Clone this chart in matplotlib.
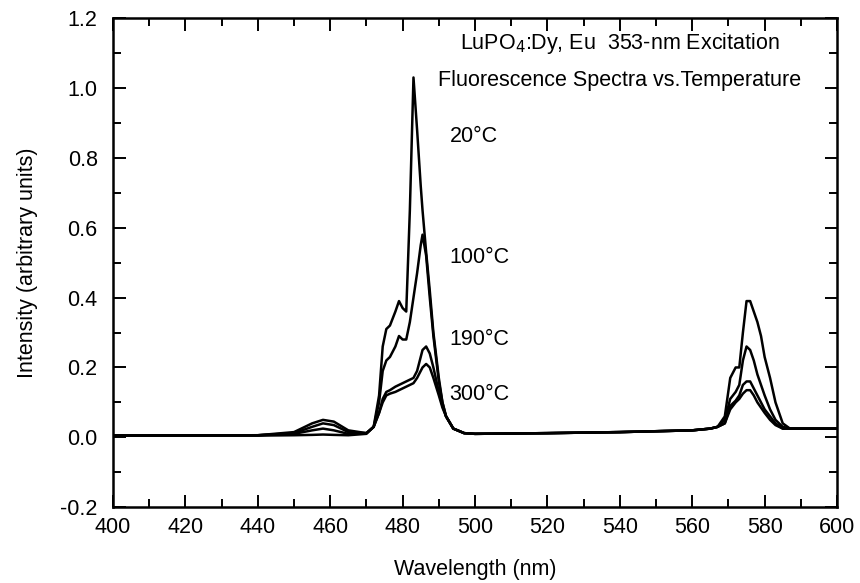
import matplotlib
matplotlib.use("Agg")
import matplotlib.pyplot as plt
from matplotlib.ticker import MultipleLocator, FormatStrFormatter

plt.rcParams['font.family'] = ['Liberation Sans', 'DejaVu Sans']

wavelength = [400, 440, 450, 455, 458, 461, 465, 470, 472, 473.5, 474.5, 475.5, 476.5,
              478, 479, 480, 481, 482, 483, 484, 485, 485.5, 486.5, 487.5, 488.5,
              490, 491, 492, 494, 497, 500, 520, 540, 560, 565, 567, 569, 570.5,
              572, 573, 574, 575, 576, 577, 578, 579, 580, 581.5, 583, 585, 587, 590, 600]

i_20C = [0.005, 0.005, 0.006, 0.007, 0.008, 0.007, 0.006, 0.01, 0.03, 0.12, 0.26, 0.31, 0.32,
         0.36, 0.39, 0.37, 0.36, 0.65, 1.03, 0.88, 0.72, 0.65, 0.53, 0.42, 0.30,
         0.17, 0.10, 0.06, 0.025, 0.012, 0.01, 0.012, 0.015, 0.02, 0.025, 0.03, 0.06, 0.17,
         0.20, 0.20, 0.30, 0.39, 0.39, 0.36, 0.33, 0.29, 0.23, 0.17, 0.10, 0.04, 0.025, 0.025, 0.025]

i_100C = [0.005, 0.006, 0.01, 0.02, 0.025, 0.02, 0.01, 0.012, 0.03, 0.10, 0.19, 0.22, 0.23,
          0.26, 0.29, 0.28, 0.28, 0.33, 0.40, 0.47, 0.55, 0.58, 0.52, 0.40, 0.29,
          0.16, 0.10, 0.06, 0.025, 0.012, 0.01, 0.012, 0.015, 0.02, 0.025, 0.03, 0.05, 0.11,
          0.13, 0.15, 0.22, 0.26, 0.25, 0.22, 0.18, 0.15, 0.12, 0.08, 0.05, 0.03, 0.025, 0.025, 0.025]

i_190C = [0.005, 0.006, 0.012, 0.03, 0.04, 0.035, 0.015, 0.012, 0.03, 0.07, 0.11, 0.13, 0.135,
          0.145, 0.15, 0.155, 0.16, 0.165, 0.17, 0.19, 0.23, 0.25, 0.26, 0.24, 0.20,
          0.13, 0.09, 0.06, 0.025, 0.012, 0.01, 0.012, 0.015, 0.02, 0.025, 0.03, 0.04, 0.09,
          0.105, 0.12, 0.15, 0.16, 0.16, 0.14, 0.12, 0.10, 0.08, 0.06, 0.04, 0.025, 0.025, 0.025, 0.025]

i_300C = [0.005, 0.006, 0.015, 0.04, 0.05, 0.045, 0.02, 0.012, 0.03, 0.07, 0.10, 0.12, 0.125,
          0.13, 0.135, 0.14, 0.145, 0.15, 0.155, 0.17, 0.19, 0.20, 0.21, 0.20, 0.17,
          0.12, 0.085, 0.06, 0.025, 0.012, 0.01, 0.012, 0.015, 0.02, 0.025, 0.03, 0.04, 0.08,
          0.10, 0.11, 0.125, 0.135, 0.135, 0.12, 0.10, 0.085, 0.07, 0.05, 0.035, 0.025, 0.025, 0.025, 0.025]

series = [("20°C", i_20C), ("100°C", i_100C), ("190°C", i_190C), ("300°C", i_300C)]
label_y = [0.86, 0.515, 0.28, 0.122]
label_x = 493

FS = 15.5

fig = plt.figure(figsize=(8.6, 5.83), dpi=100)
ax = fig.add_axes([0.1314, 0.130, 0.8419, 0.839])

for name, vals in series:
    ax.plot(wavelength, vals, color='black', lw=1.8)

for (name, _), ly in zip(series, label_y):
    ax.text(label_x, ly, name, fontsize=FS, va='center', ha='left')

ax.text(540, 1.128, "LuPO$_4$:Dy, Eu  353-nm Excitation", fontsize=FS, ha='center', va='center')
ax.text(540, 1.02, "Fluorescence Spectra vs.Temperature", fontsize=FS, ha='center', va='center')

ax.set_xlim(400, 600)
ax.set_ylim(-0.2, 1.2)
ax.xaxis.set_major_locator(MultipleLocator(20))
ax.xaxis.set_minor_locator(MultipleLocator(10))
ax.yaxis.set_major_locator(MultipleLocator(0.2))
ax.yaxis.set_minor_locator(MultipleLocator(0.1))
ax.yaxis.set_major_formatter(FormatStrFormatter('%.1f'))
ax.tick_params(which='both', direction='in', top=True, right=True, width=1.4, labelsize=FS)
ax.tick_params(which='major', length=9)
ax.tick_params(which='minor', length=6)
ax.tick_params(axis='y', pad=11)
ax.tick_params(axis='x', pad=7)
for s in ax.spines.values():
    s.set_linewidth(1.8)

ax.set_xlabel("Wavelength (nm)", fontsize=FS, labelpad=15)
ax.set_ylabel("Intensity (arbitrary units)", fontsize=FS, labelpad=16)

fig.savefig("out.png", dpi=100)
